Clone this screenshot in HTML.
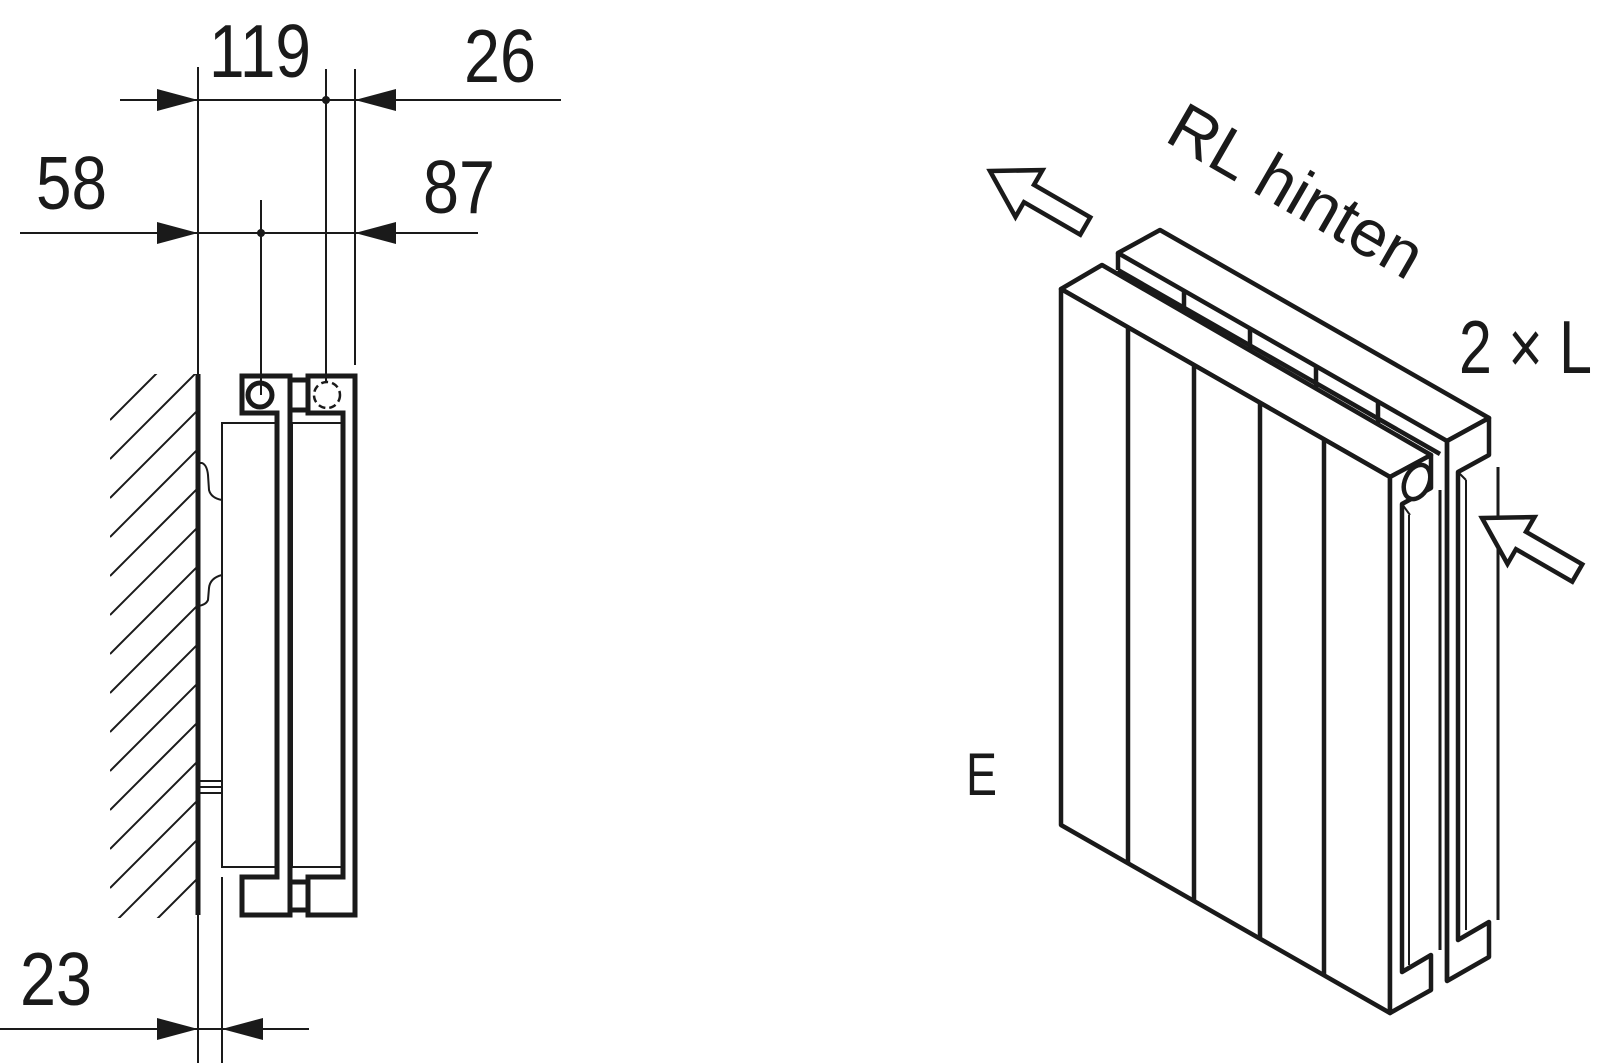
<!DOCTYPE html>
<html><head><meta charset="utf-8"><style>html,body{margin:0;padding:0;background:#fff}svg{display:block}text{font-family:"Liberation Sans",sans-serif;fill:#1a1a1a}</style></head><body>
<svg width="1600" height="1063" viewBox="0 0 1600 1063" xmlns="http://www.w3.org/2000/svg">
<defs><clipPath id="hc"><rect x="110" y="374" width="86" height="544"/></clipPath></defs>
<g stroke="#1a1a1a" fill="none" stroke-width="2">
<line x1="120" y1="100" x2="561" y2="100"/>
<line x1="20" y1="233" x2="478" y2="233"/>
<line x1="0" y1="1029" x2="309" y2="1029"/>
<line x1="198" y1="67" x2="198" y2="1063"/>
<line x1="326" y1="69" x2="326" y2="382"/>
<line x1="355" y1="69" x2="355" y2="365"/>
<line x1="261" y1="200" x2="261" y2="395"/>
<line x1="222" y1="877" x2="222" y2="1063"/>
<g clip-path="url(#hc)">
<line x1="110" y1="420" x2="200" y2="330"/><line x1="110" y1="459" x2="200" y2="369"/><line x1="110" y1="498" x2="200" y2="408"/><line x1="110" y1="537" x2="200" y2="447"/><line x1="110" y1="576" x2="200" y2="486"/><line x1="110" y1="615" x2="200" y2="525"/><line x1="110" y1="654" x2="200" y2="564"/><line x1="110" y1="693" x2="200" y2="603"/><line x1="110" y1="732" x2="200" y2="642"/><line x1="110" y1="771" x2="200" y2="681"/><line x1="110" y1="810" x2="200" y2="720"/><line x1="110" y1="849" x2="200" y2="759"/><line x1="110" y1="888" x2="200" y2="798"/><line x1="110" y1="927" x2="200" y2="837"/><line x1="110" y1="966" x2="200" y2="876"/><line x1="110" y1="1005" x2="200" y2="915"/>
</g>
<path d="M198,463 L202,463 Q207,465 208,475 L209,490 Q211,498 222,500"/>
<path d="M222,575 Q210,578 209,588 L208,600 Q206,605 198,606"/>
<line x1="198" y1="781" x2="222" y2="781"/><line x1="198" y1="787" x2="222" y2="787"/><line x1="198" y1="793" x2="222" y2="793"/>
<rect x="222" y="423" width="55" height="444"/>
<rect x="292" y="423" width="51" height="444"/>
</g>
<g fill="#1a1a1a">
<polygon points="198,100 157,89 157,111"/><polygon points="355,100 396,89 396,111"/>
<polygon points="198,233 157,222 157,244"/><polygon points="355,233 396,222 396,244"/>
<polygon points="198,1029 157,1018 157,1040"/><polygon points="222,1029 263,1018 263,1040"/>
<circle cx="326" cy="100" r="4"/><circle cx="261" cy="233" r="4"/>
</g>
<g stroke="#1a1a1a" fill="none" stroke-width="5" stroke-linejoin="miter">
<line x1="198" y1="374" x2="198" y2="915"/>
<polygon points="277,413 242,413 242,376 290,376 290,915 242,915 242,877 277,877"/>
<polygon points="343,413 308,413 308,376 355,376 355,915 308,915 308,877 343,877"/>
<rect x="290" y="380" width="18" height="30"/>
<rect x="290" y="882" width="18" height="28"/>
<circle cx="260" cy="395" r="12"/>
<circle cx="327" cy="395" r="13" stroke-width="2.5" stroke-dasharray="7,4"/>
</g>
<text x="209" y="77" font-size="75" textLength="102" lengthAdjust="spacingAndGlyphs">119</text>
<text x="464" y="82" font-size="75" textLength="72" lengthAdjust="spacingAndGlyphs">26</text>
<text x="36" y="209" font-size="75" textLength="71" lengthAdjust="spacingAndGlyphs">58</text>
<text x="423" y="213" font-size="75" textLength="72" lengthAdjust="spacingAndGlyphs">87</text>
<text x="20" y="1005" font-size="75" textLength="72" lengthAdjust="spacingAndGlyphs">23</text>
<g stroke="#1a1a1a" fill="#fff" stroke-width="4.5" stroke-linejoin="round">
<polygon points="1118,253 1160,230 1489,418 1447,441"/>
<polygon points="1447,441 1489,418 1489,455 1458,472 1458,940 1489,922 1489,957 1447,981"/>
<line x1="1447" y1="441" x2="1447" y2="981"/>
<line x1="1118" y1="253" x2="1118" y2="270"/>
<line x1="1118" y1="270" x2="1440" y2="454"/>
<line x1="1184" y1="291" x2="1184" y2="317" /><line x1="1250" y1="329" x2="1250" y2="355"/><line x1="1316" y1="366" x2="1316" y2="392"/><line x1="1378" y1="402" x2="1378" y2="428"/>
<polygon points="1061,289 1102,265 1431,455 1390,477"/>
<polygon points="1061,289 1390,477 1390,1013 1061,825"/>
<polygon points="1390,477 1431,455 1431,488 1402,504 1402,972 1431,955 1431,990 1390,1013"/>
<line x1="1128" y1="327" x2="1128" y2="863"/>
<line x1="1194" y1="365" x2="1194" y2="901"/>
<line x1="1260" y1="402" x2="1260" y2="938"/>
<line x1="1324" y1="439" x2="1324" y2="975"/>
<ellipse cx="1417" cy="482" rx="12" ry="18" transform="rotate(25 1417 482)"/>
<line x1="1440" y1="490" x2="1440" y2="950" stroke-width="3"/>
<line x1="1498" y1="467" x2="1498" y2="920" stroke-width="3"/>
</g>
<g stroke="#1a1a1a" stroke-width="2" fill="none">
<line x1="1409" y1="515" x2="1409" y2="965"/>
<line x1="1466" y1="480" x2="1466" y2="930"/>
<line x1="1402" y1="504" x2="1410" y2="515"/>
<line x1="1458" y1="472" x2="1466" y2="480"/>
</g>
<g stroke="#1a1a1a" fill="#fff" stroke-width="4.5" stroke-linejoin="miter">
<polygon transform="translate(990,171) rotate(30)" points="0,0 45,-27 45,-10 110,-10 110,10 45,10 45,27"/>
<polygon transform="translate(1482,518) rotate(30)" points="0,0 45,-27 45,-10 110,-10 110,10 45,10 45,27"/>
</g>
<text transform="translate(1163,140) rotate(30)" font-size="66" textLength="282" lengthAdjust="spacingAndGlyphs">RL hinten</text>
<text x="1459" y="373" font-size="75" textLength="133" lengthAdjust="spacingAndGlyphs">2 × L</text>
<text x="966" y="795" font-size="60" textLength="31" lengthAdjust="spacingAndGlyphs">E</text>
</svg>
</body></html>
